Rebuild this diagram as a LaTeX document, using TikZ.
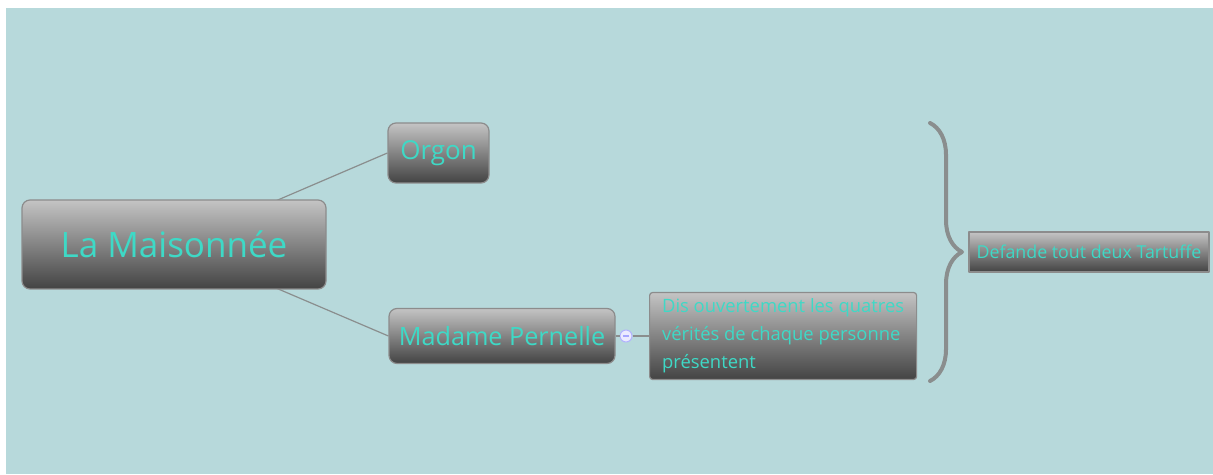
\documentclass[tikz,border=0pt]{standalone}
\usepackage{fontspec}
\setmainfont{Open Sans}
\usetikzlibrary{decorations.pathreplacing,backgrounds}

\definecolor{paper}{HTML}{B7D9DB}
\definecolor{boxtop}{HTML}{C4C4C4}
\definecolor{boxbot}{HTML}{434343}
\definecolor{boxedge}{HTML}{8C8C8C}
\definecolor{ink}{HTML}{3ED9C6}
\definecolor{wire}{HTML}{8A8E8E}

\begin{document}
\begin{tikzpicture}[x=0.5pt,y=-0.5pt,line join=round,
    topic/.style={draw=boxedge,line width=0.6pt,top color=boxtop,bottom color=boxbot,
      rounded corners=4pt,text=ink,inner sep=0pt,align=center},
    note/.style={topic,rounded corners=1.5pt,align=left,font=\fontsize{9.2}{14}\selectfont},
    link/.style={draw=wire,line width=0.6pt}]
      \node[topic,minimum width=152pt,minimum height=44.5pt,font=\fontsize{17.5}{21}\selectfont]
        (maison) at (174,244.5) {La Maisonnée};
      \node[topic,minimum width=50.5pt,minimum height=30pt,font=\fontsize{13}{16}\selectfont]
        (orgon) at (438.5,153) {Orgon};
      \node[topic,minimum width=113pt,minimum height=27.5pt,font=\fontsize{12.6}{16}\selectfont]
        (pernelle) at (502,336) {Madame Pernelle};
      \node[note,minimum width=133.5pt,minimum height=43.5pt,inner xsep=4pt,anchor=west]
        (verites) at (649,336) {Dis ouvertement les quatres\\vérités de chaque personne\\présentent};
      \node[topic,rounded corners=0pt,minimum width=120pt,minimum height=20pt,font=\fontsize{8.9}{10}\selectfont]
        (defend) at (1089,252) {Defande tout deux Tartuffe};
      \node[circle,draw=blue!30!white,fill=blue!8!white,line width=0.5pt,inner sep=0pt,minimum size=6pt]
        (plie) at (626,336) {};
      \draw[blue!35!white,line width=0.6pt] ([xshift=-1.6pt]plie.center)--([xshift=1.6pt]plie.center);
      \coordinate (bhaut) at (930,123);
      \coordinate (bbas) at (930,381);
      \begin{scope}[on background layer]
        \fill[white] (0,0) rectangle (1213,475);
        \fill[paper] (6,8) rectangle (1213,474);
        \draw[link] (maison.center)--(orgon.west);
        \draw[link] (maison.center)--(pernelle.west);
      \end{scope}
      \draw[link] (pernelle.east)--(plie.west);
      \draw[link] (plie.east)--(verites.west);
      \draw[wire,line width=2pt,line cap=round,decorate,decoration={brace,amplitude=16pt}] (bhaut)--(bbas);
    \end{tikzpicture}
\end{document}
